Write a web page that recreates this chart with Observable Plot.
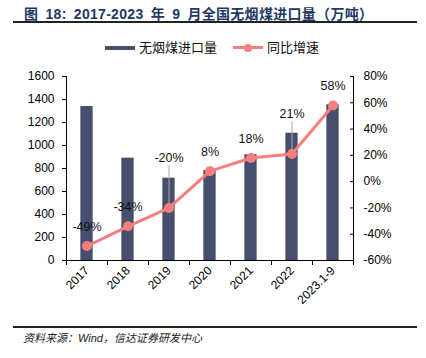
<!DOCTYPE html>
<html><head><meta charset="utf-8">
<script src="https://cdn.jsdelivr.net/npm/d3@7"></script>
<script src="https://cdn.jsdelivr.net/npm/@observablehq/plot@0.6"></script>
<style>
body{margin:0;background:#fff;}
#wrap{position:relative;width:426px;height:358px;overflow:hidden;font-family:"Liberation Sans","Noto Sans CJK SC",sans-serif;color:#000;}
.abs{position:absolute;white-space:nowrap;}
#title{left:24px;top:5px;font-size:14px;font-weight:bold;color:#1f3864;line-height:18px;word-spacing:3px;letter-spacing:0.3px;font-family:"Liberation Sans","Noto Sans CJK SC",sans-serif;}
#rule1{left:13px;top:21px;width:404px;height:2px;background:#222;}
#rule2{left:13px;top:326px;width:404px;height:2px;background:#222;}
.legtxt{font-size:13px;line-height:16px;font-family:"Noto Sans CJK SC",sans-serif;color:#111;}
#caption{left:23px;top:331px;font-size:11px;line-height:14px;font-style:italic;font-family:"Liberation Sans","Noto Sans CJK SC",sans-serif;color:#222;}
#chart{position:absolute;left:0;top:60px;}
</style></head>
<body><div id="wrap">
<div id="title" class="abs">图 18: 2017-2023 年 9 月全国无烟煤进口量（万吨）</div>
<div id="rule1" class="abs"></div>
<div class="abs" style="left:105px;top:46px;width:30px;height:4px;background:#464F6D"></div>
<div class="abs legtxt" style="left:139px;top:39px">无烟煤进口量</div>
<div class="abs" style="left:233px;top:46px;width:30px;height:3px;background:#F77E7E"></div>
<div class="abs" style="left:244px;top:43.5px;width:8px;height:8px;border-radius:50%;background:#F77E7E"></div>
<div class="abs legtxt" style="left:267px;top:39px">同比增速</div>
<div id="chart"></div>
<div id="rule2" class="abs"></div>
<div id="caption" class="abs">资料来源：Wind，信达证券研发中心</div>
</div>
<script>
const categories = ["2017","2018","2019","2020","2021","2022","2023.1-9"];
const imports = [1339, 890, 716, 783, 919, 1107, 1354];
const growth = [-49, -34, -20, 8, 18, 21, 58];
const leftTicks = [0, 200, 400, 600, 800, 1000, 1200, 1400, 1600];
const rightTicks = [-60, -40, -20, 0, 20, 40, 60, 80];

const data = categories.map((c, i) => ({i, c, v: imports[i], g: growth[i]}));
const toY = p => (p + 60) / 140 * 1600;
const fromY = v => Math.round(v / 1600 * 140 - 60);

// label lift (px) above the point; larger ones use leader lines
const lift = {"2019": 50, "2022": 40};
const liftOf = d => lift[d.c] ?? 19;

const BAR = "#464F6D", LINE = "#F77E7E";

const labelGroups = d3.groups(data, liftOf);
const labelMarks = labelGroups.map(([l, arr]) => Plot.text(arr, {
  x: "i", y: d => toY(d.g), text: d => d.g + "%", dy: -l, fill: "#111", fontSize: 12.5
}));
const leaderMarks = data.filter(d => lift[d.c]).map(d => Plot.ruleX([d], {
  x: "i", y1: e => toY(e.g), y2: e => toY(e.g), insetTop: -(liftOf(d) - 8), stroke: "#aaa", strokeWidth: 1
}));

const chart = Plot.plot({
  width: 426, height: 260,
  marginLeft: 66, marginRight: 73, marginTop: 16, marginBottom: 60,
  style: {fontFamily: "Liberation Sans, sans-serif", fontSize: "12px", color: "#000", background: "transparent", overflow: "visible"},
  x: {type: "linear", domain: [-0.5, 6.5]},
  y: {domain: [0, 1600]},
  marks: [
    Plot.rectY(data, {x1: d => d.i - 0.15, x2: d => d.i + 0.15, y: "v", fill: BAR}),
    ...leaderMarks,
    Plot.line(data, {x: "i", y: d => toY(d.g), stroke: LINE, strokeWidth: 3}),
    Plot.dot(data, {x: "i", y: d => toY(d.g), r: 5, fill: LINE}),
    ...labelMarks,
    Plot.ruleX([-0.5], {stroke: "#000"}),
    Plot.ruleX([6.5], {stroke: "#000"}),
    Plot.ruleY([0], {stroke: "#000"}),
    Plot.ruleY(rightTicks.map(toY), {x1: 6.5, x2: 6.5, y: d => d, insetLeft: -3, stroke: "#000"}),
    Plot.axisY({ticks: leftTicks, tickSize: 4, tickPadding: 8, tickFormat: d => String(d), label: null, fontSize: 12}),
    Plot.axisY({anchor: "right", ticks: rightTicks.map(toY), tickFormat: v => fromY(v) + "%", tickSize: 0, tickPadding: 10, label: null, fontSize: 12}),
    Plot.axisX({ticks: d3.range(-0.5, 7, 1), tickSize: 5, tickFormat: () => "", label: null}),
    Plot.axisX({ticks: d3.range(7), tickSize: 0, tickPadding: 8, tickRotate: -45, tickFormat: i => categories[i], label: null, fontSize: 12})
  ]
});
document.getElementById("chart").appendChild(chart);
</script>
</body></html>
